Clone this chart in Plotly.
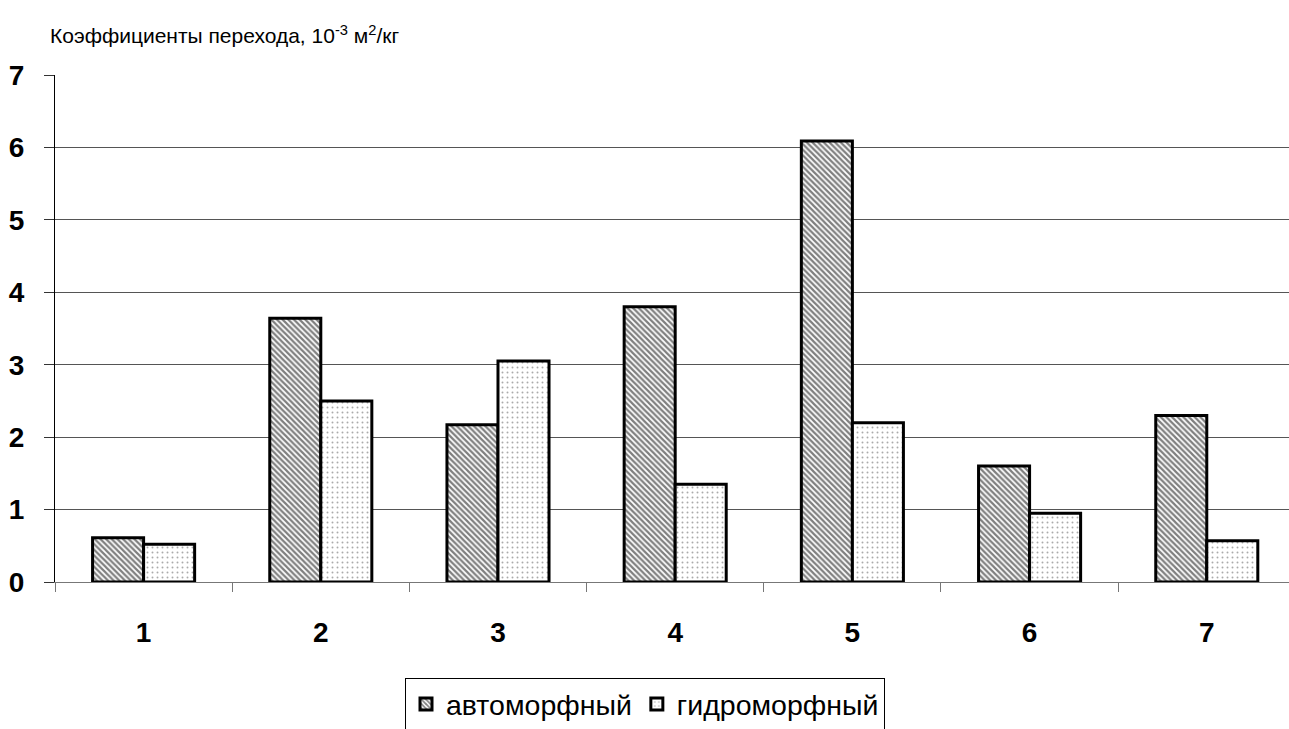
import plotly.graph_objects as go

# Transfer coefficients by site, 10^-3 m2/kg
sites = ["1", "2", "3", "4", "5", "6", "7"]
automorphic = [0.61, 3.64, 2.17, 3.80, 6.09, 1.60, 2.30]
hydromorphic = [0.52, 2.50, 3.05, 1.35, 2.20, 0.95, 0.57]
series_names = ["автоморфный", "гидроморфный"]
y_ticks = [0, 1, 2, 3, 4, 5, 6, 7]
grid_vals = [1, 2, 3, 4, 5, 6]

FONT = "Liberation Sans, Arial, sans-serif"

fig = go.Figure()
fig.add_trace(go.Bar(
    x=sites, y=automorphic, name=series_names[0],
    marker=dict(
        color="white",
        line=dict(color="black", width=3),
        pattern=dict(shape="\\", fgcolor="black", bgcolor="white",
                     size=4, solidity=0.55),
    ),
))
fig.add_trace(go.Bar(
    x=sites, y=hydromorphic, name=series_names[1],
    marker=dict(
        color="white",
        line=dict(color="black", width=3),
        pattern=dict(shape=".", fgcolor="#555555", bgcolor="white",
                     size=5, solidity=0.12),
    ),
))

# invisible helper trace that carries the gridline axis
fig.add_trace(go.Scatter(x=[sites[0]], y=[0], yaxis="y2", mode="markers",
                         marker=dict(opacity=0), showlegend=False,
                         hoverinfo="skip"))

fig.update_layout(
    width=1289, height=729,
    margin=dict(l=55, r=0, t=75, b=147, autoexpand=False),
    paper_bgcolor="white", plot_bgcolor="white",
    barmode="group", bargap=0.424, bargroupgap=0,
    font=dict(family=FONT, color="black"),
    title=dict(
        text="Коэффициенты перехода, 10<sup>-3</sup> м<sup>2</sup>/кг",
        x=50 / 1289, xanchor="left", xref="container",
        y=1 - 36 / 729, yanchor="middle", yref="container",
        font=dict(size=21, family=FONT, color="black"),
    ),
    xaxis=dict(
        type="category", range=[-0.5, 6.464], automargin=False,
        showline=True, linecolor="#777777", linewidth=1,
        ticks="outside", tickson="boundaries", ticklen=9,
        tickcolor="#777777", tickwidth=1,
        ticklabelstandoff=25,
        tickfont=dict(size=28, family=FONT, color="black", weight="bold"),
        showgrid=False, zeroline=False,
    ),
    yaxis=dict(
        range=[0, 7], tickvals=y_ticks, automargin=False,
        showline=True, linecolor="black", linewidth=1,
        ticks="outside", ticklen=10, tickcolor="#333333", tickwidth=1,
        ticklabelstandoff=14,
        tickfont=dict(size=28, family=FONT, color="black", weight="bold"),
        showgrid=False, zeroline=False,
    ),
    yaxis2=dict(
        range=[0, 7], tickvals=grid_vals, overlaying="y", automargin=False,
        showticklabels=False, ticks="", showline=False,
        showgrid=True, gridcolor="#555555", gridwidth=1, zeroline=False,
    ),
    legend=dict(
        orientation="h", xanchor="center", x=(645 - 55) / 1234,
        yanchor="top", y=(582 - 678) / 507,
        bordercolor="black", borderwidth=1, bgcolor="white",
        font=dict(size=28.5, family=FONT, color="black"),
        itemwidth=30, tracegroupgap=0,
    ),
    showlegend=True,
)

fig.write_html("out.html")
